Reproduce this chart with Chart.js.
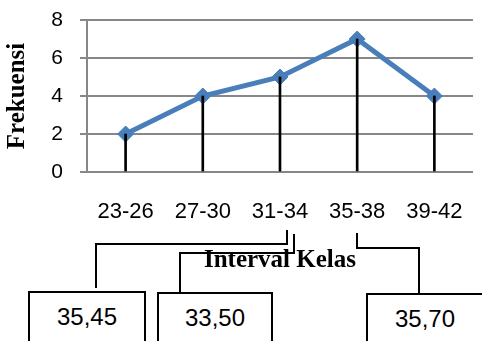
<!DOCTYPE html>
<html>
<head>
<meta charset="utf-8">
<script src="https://cdn.jsdelivr.net/npm/chart.js@4.4.1/dist/chart.umd.min.js"></script>
<style>
  html, body { margin: 0; padding: 0; background: #fff; overflow: hidden; }
  body { width: 482px; height: 341px; position: relative; }
  #chartBox { position: absolute; left: 0; top: 0; width: 490px; height: 276px; }
  #links { position: absolute; left: 0; top: 0; }
  .nilai {
    position: absolute; box-sizing: border-box; height: 70px;
    border: 2px solid #000; background: #fff;
    font-family: "Liberation Sans", Arial, sans-serif; font-size: 24px;
    line-height: 26px; padding-top: 11px; text-align: center; color: #000;
  }
</style>
</head>
<body>
<div id="chartBox"><canvas id="grafik" width="490" height="276"></canvas></div>

<svg id="links" width="482" height="341">
  <g fill="none" stroke="#000" stroke-width="2">
    <polyline points="287,230 287,244 96,244 96,288" />
    <polyline points="294,234 294,253 180,253 180,292" />
    <polyline points="357,233 357,248 419,248 419,293" />
  </g>
</svg>

<div class="nilai" id="nilai0" style="left:28px; top:291px; width:118px;"></div>
<div class="nilai" id="nilai1" style="left:157px; top:292px; width:116px;"></div>
<div class="nilai" id="nilai2" style="left:366px; top:293px; width:118px;"></div>

<script>
// data
var kelas = ["23-26", "27-30", "31-34", "35-38", "39-42"]
var frekuensi = [2, 4, 5, 7, 4]
var nilaiKotak = ["35,45", "33,50", "35,70"]

nilaiKotak.forEach(function (v, i) {
  document.getElementById("nilai" + i).textContent = v
})

var abu = '#878787'
var ctx = document.getElementById("grafik")

var grafik = new Chart(ctx, {
  data: {
    labels: kelas,
    datasets: [{
      type: 'bar',
      label: "garis",
      data: frekuensi,
      backgroundColor: '#000',
      barThickness: 2,
      order: 0
    }, {
      type: 'line',
      label: "Frekuensi",
      data: frekuensi,
      borderColor: '#4a7ebb',
      borderWidth: 5,
      backgroundColor: '#4a7ebb',
      pointStyle: 'rectRot',
      pointRadius: 8,
      pointBorderWidth: 1,
      pointBorderColor: '#4a7ebb',
      pointBackgroundColor: '#4a7ebb',
      tension: 0,
      order: 1
    }]
  },
  options: {
    responsive: false,
    animation: false,
    layout: { autoPadding: false, padding: { top: 20, right: 5, bottom: 0, left: 0 } },
    plugins: { legend: { display: false }, tooltip: { enabled: false } },
    scales: {
      x: {
        offset: true,
        grid: { display: false, drawTicks: false },
        border: { color: abu, width: 2 },
        ticks: {
          color: '#000',
          padding: 27,
          maxRotation: 0,
          font: { family: "'Liberation Sans', Arial, sans-serif", size: 22 }
        },
        title: {
          display: true,
          text: 'Interval Kelas',
          color: '#000',
          padding: { top: 20, bottom: 0 },
          font: { family: "'Liberation Serif', 'Times New Roman', serif", size: 25, weight: 'bold' }
        },
        afterFit: function (scale) { scale.height = 104 }
      },
      y: {
        min: 0,
        max: 8,
        ticks: {
          stepSize: 2,
          color: '#000',
          padding: 17,
          font: { family: "'Liberation Sans', Arial, sans-serif", size: 21 }
        },
        grid: { color: abu, lineWidth: 2, tickLength: 7 },
        border: { color: abu, width: 2 },
        title: {
          display: true,
          text: 'Frekuensi',
          color: '#000',
          padding: { top: 3, bottom: 0 },
          font: { family: "'Liberation Serif', 'Times New Roman', serif", size: 25, weight: 'bold' }
        },
        afterFit: function (scale) {
          scale.width = 87
          scale.paddingTop = 0
        }
      }
    }
  }
})
</script>
</body>
</html>
